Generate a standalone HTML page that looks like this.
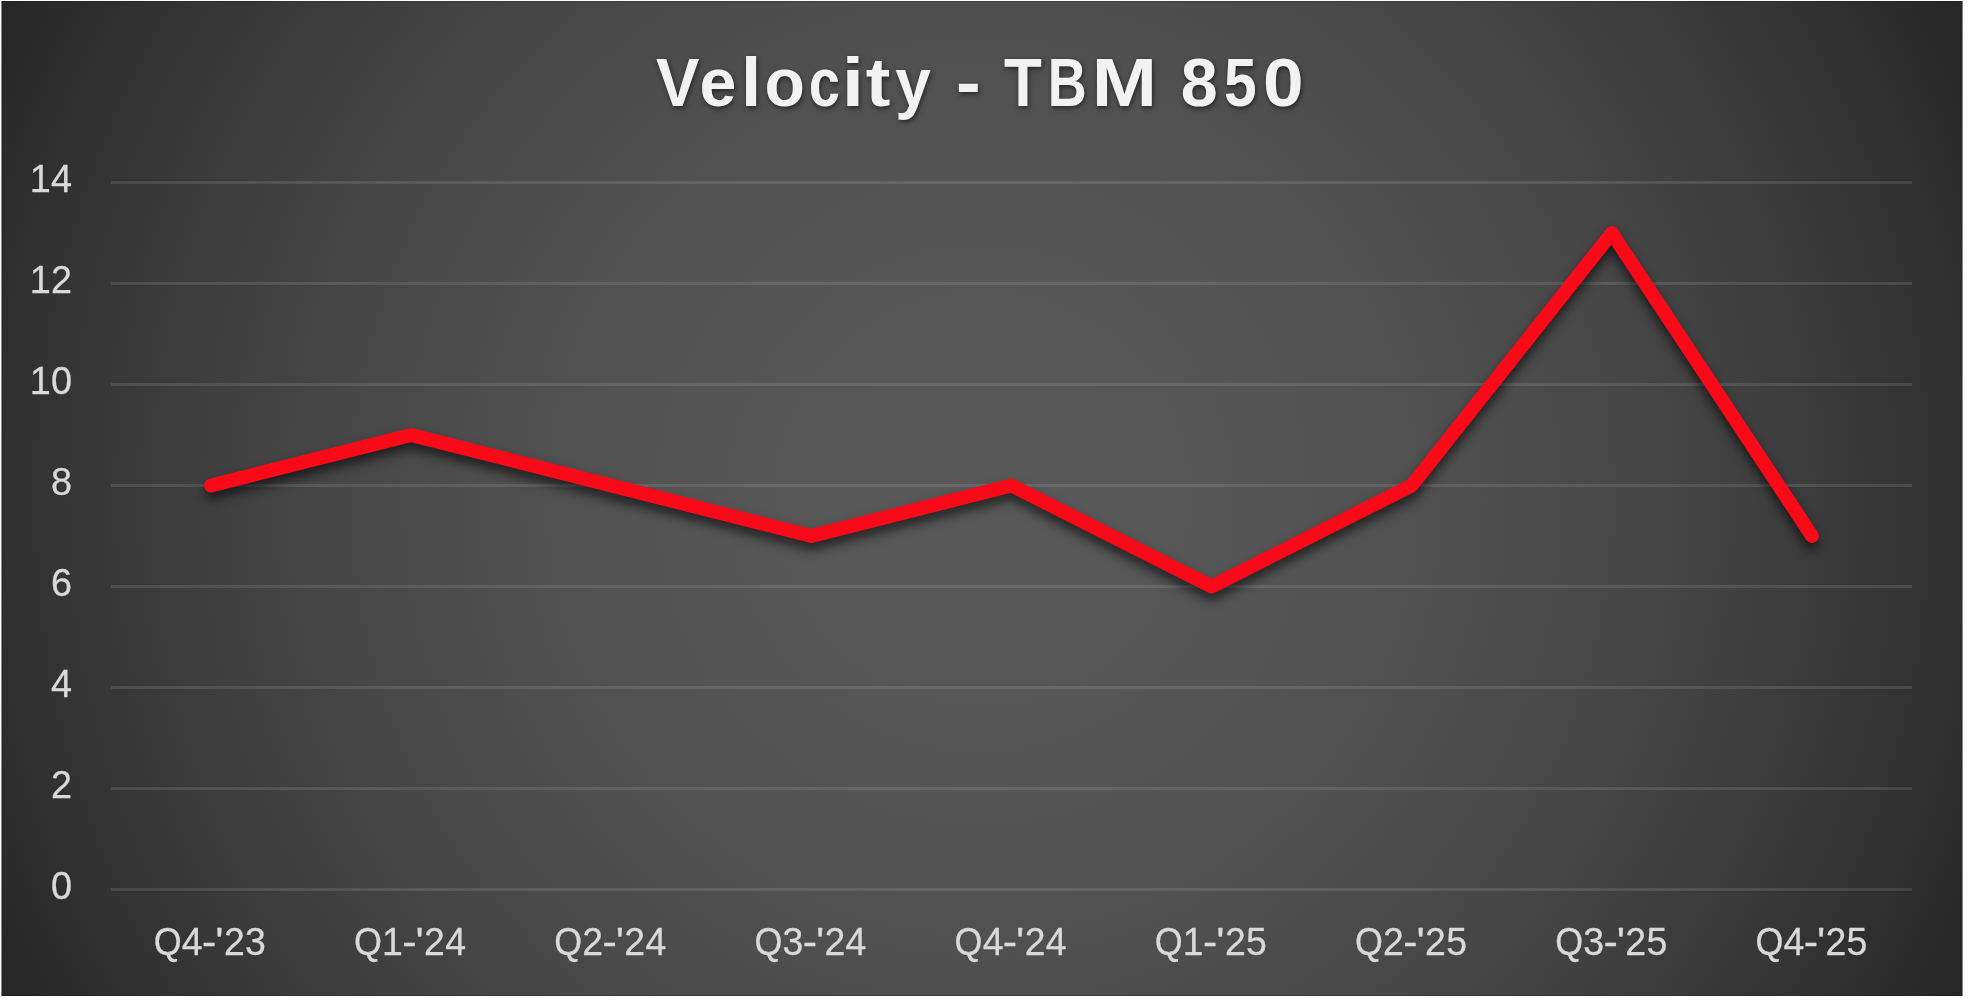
<!DOCTYPE html>
<html lang="en"><head><meta charset="utf-8"><title>Velocity - TBM 850</title>
<style>
html,body{margin:0;padding:0;background:#fff;}
body{width:1970px;height:1003px;overflow:hidden;}
svg{display:block;position:absolute;left:0;top:0;}
text{font-family:"Liberation Sans",Arial,Helvetica,sans-serif;}
.ax{font-size:39.4px;fill:#D9D9D9;stroke:#D9D9D9;stroke-width:0.3px;stroke-linejoin:round;}
.tt{font-size:68.3px;font-weight:bold;fill:#F2F2F2;}
</style></head><body>
<svg width="1970" height="1003" viewBox="0 0 1970 1003" role="img" aria-label="Velocity - TBM 850 line chart">
<defs>
<radialGradient id="bg" gradientUnits="userSpaceOnUse" cx="982.00" cy="498.50" r="1099.49"><stop offset="0.0000" stop-color="#585858"/><stop offset="0.0768" stop-color="#585858"/><stop offset="0.1600" stop-color="#575757"/><stop offset="0.2128" stop-color="#565656"/><stop offset="0.2549" stop-color="#555555"/><stop offset="0.2909" stop-color="#545454"/><stop offset="0.3230" stop-color="#535353"/><stop offset="0.3522" stop-color="#525252"/><stop offset="0.3791" stop-color="#515151"/><stop offset="0.4042" stop-color="#505050"/><stop offset="0.4279" stop-color="#4f4f4f"/><stop offset="0.4503" stop-color="#4e4e4e"/><stop offset="0.4716" stop-color="#4d4d4d"/><stop offset="0.4921" stop-color="#4c4c4c"/><stop offset="0.5117" stop-color="#4b4b4b"/><stop offset="0.5306" stop-color="#4a4a4a"/><stop offset="0.5488" stop-color="#494949"/><stop offset="0.5665" stop-color="#484848"/><stop offset="0.5836" stop-color="#474747"/><stop offset="0.6002" stop-color="#464646"/><stop offset="0.6164" stop-color="#454545"/><stop offset="0.6321" stop-color="#444444"/><stop offset="0.6475" stop-color="#434343"/><stop offset="0.6626" stop-color="#424242"/><stop offset="0.6772" stop-color="#414141"/><stop offset="0.6916" stop-color="#404040"/><stop offset="0.7057" stop-color="#3f3f3f"/><stop offset="0.7195" stop-color="#3e3e3e"/><stop offset="0.7331" stop-color="#3d3d3d"/><stop offset="0.7464" stop-color="#3c3c3c"/><stop offset="0.7595" stop-color="#3b3b3b"/><stop offset="0.7723" stop-color="#3a3a3a"/><stop offset="0.7849" stop-color="#393939"/><stop offset="0.7974" stop-color="#383838"/><stop offset="0.8096" stop-color="#373737"/><stop offset="0.8217" stop-color="#363636"/><stop offset="0.8336" stop-color="#353535"/><stop offset="0.8453" stop-color="#343434"/><stop offset="0.8569" stop-color="#333333"/><stop offset="0.8683" stop-color="#323232"/><stop offset="0.8796" stop-color="#313131"/><stop offset="0.8907" stop-color="#303030"/><stop offset="0.9017" stop-color="#2f2f2f"/><stop offset="0.9125" stop-color="#2e2e2e"/><stop offset="0.9232" stop-color="#2d2d2d"/><stop offset="0.9338" stop-color="#2c2c2c"/><stop offset="0.9443" stop-color="#2b2b2b"/><stop offset="0.9547" stop-color="#2a2a2a"/><stop offset="0.9649" stop-color="#292929"/><stop offset="0.9751" stop-color="#282828"/><stop offset="0.9851" stop-color="#272727"/><stop offset="0.9951" stop-color="#262626"/><stop offset="1.0000" stop-color="#262626"/></radialGradient>
<filter id="ls" x="-5%" y="-20%" width="110%" height="150%" color-interpolation-filters="sRGB"><feGaussianBlur in="SourceAlpha" stdDeviation="5.5"/><feOffset dx="0" dy="7.0" result="b"/><feFlood flood-color="#000" flood-opacity="0.6"/><feComposite in2="b" operator="in"/><feMerge><feMergeNode/><feMergeNode in="SourceGraphic"/></feMerge></filter>
<filter id="ts" x="-5%" y="-30%" width="110%" height="160%" color-interpolation-filters="sRGB"><feGaussianBlur in="SourceAlpha" stdDeviation="2.4"/><feOffset dx="0.8" dy="1.9" result="b"/><feFlood flood-color="#000" flood-opacity="0.55"/><feComposite in2="b" operator="in"/><feMerge><feMergeNode/><feMergeNode in="SourceGraphic"/></feMerge></filter>
<filter id="aa" filterUnits="userSpaceOnUse" x="0" y="0" width="1970" height="1003" color-interpolation-filters="sRGB"><feOffset dx="0" dy="0"/></filter>
</defs>
<rect x="1.5" y="1.0" width="1961.0" height="995.0" fill="url(#bg)"/>
<rect x="2.0" y="1.5" width="1960.0" height="994.0" fill="none" stroke="rgba(0,0,0,0.18)" stroke-width="1.0"/>
<g fill="rgba(242,242,242,0.113)">
<rect x="111.0" y="887.95" width="1801.0" height="3.1"/>
<rect x="111.0" y="786.95" width="1801.0" height="3.1"/>
<rect x="111.0" y="685.95" width="1801.0" height="3.1"/>
<rect x="111.0" y="584.95" width="1801.0" height="3.1"/>
<rect x="111.0" y="483.95" width="1801.0" height="3.1"/>
<rect x="111.0" y="382.95" width="1801.0" height="3.1"/>
<rect x="111.0" y="281.95" width="1801.0" height="3.1"/>
<rect x="111.0" y="180.95" width="1801.0" height="3.1"/>
</g>
<g class="ax" filter="url(#aa)">
<text y="192.00"><tspan x="29.78" textLength="21.04" lengthAdjust="spacingAndGlyphs">1</tspan><tspan x="51.08" textLength="21.04" lengthAdjust="spacingAndGlyphs">4</tspan></text>
<text y="293.00"><tspan x="29.78" textLength="21.04" lengthAdjust="spacingAndGlyphs">1</tspan><tspan x="51.08" textLength="21.04" lengthAdjust="spacingAndGlyphs">2</tspan></text>
<text y="394.00"><tspan x="29.78" textLength="21.04" lengthAdjust="spacingAndGlyphs">1</tspan><tspan x="51.08" textLength="21.04" lengthAdjust="spacingAndGlyphs">0</tspan></text>
<text y="495.00"><tspan x="51.08" textLength="21.04" lengthAdjust="spacingAndGlyphs">8</tspan></text>
<text y="596.00"><tspan x="51.08" textLength="21.04" lengthAdjust="spacingAndGlyphs">6</tspan></text>
<text y="697.00"><tspan x="51.08" textLength="21.04" lengthAdjust="spacingAndGlyphs">4</tspan></text>
<text y="798.00"><tspan x="51.08" textLength="21.04" lengthAdjust="spacingAndGlyphs">2</tspan></text>
<text y="899.00"><tspan x="51.08" textLength="21.04" lengthAdjust="spacingAndGlyphs">0</tspan></text>
</g>
<g class="ax" filter="url(#aa)">
<text y="954.9"><tspan x="153.80" textLength="27.92" lengthAdjust="spacingAndGlyphs">Q</tspan><tspan x="181.86" textLength="20.82" lengthAdjust="spacingAndGlyphs">4</tspan><tspan x="202.09" textLength="14.32" lengthAdjust="spacingAndGlyphs">-</tspan><tspan x="215.30" textLength="8.29" lengthAdjust="spacingAndGlyphs">'</tspan><tspan x="223.89" textLength="20.82" lengthAdjust="spacingAndGlyphs">2</tspan><tspan x="245.00" textLength="20.82" lengthAdjust="spacingAndGlyphs">3</tspan></text>
<text y="954.9"><tspan x="354.00" textLength="27.92" lengthAdjust="spacingAndGlyphs">Q</tspan><tspan x="382.06" textLength="20.82" lengthAdjust="spacingAndGlyphs">1</tspan><tspan x="402.29" textLength="14.32" lengthAdjust="spacingAndGlyphs">-</tspan><tspan x="415.50" textLength="8.29" lengthAdjust="spacingAndGlyphs">'</tspan><tspan x="424.09" textLength="20.82" lengthAdjust="spacingAndGlyphs">2</tspan><tspan x="445.20" textLength="20.82" lengthAdjust="spacingAndGlyphs">4</tspan></text>
<text y="954.9"><tspan x="554.20" textLength="27.92" lengthAdjust="spacingAndGlyphs">Q</tspan><tspan x="582.26" textLength="20.82" lengthAdjust="spacingAndGlyphs">2</tspan><tspan x="602.49" textLength="14.32" lengthAdjust="spacingAndGlyphs">-</tspan><tspan x="615.70" textLength="8.29" lengthAdjust="spacingAndGlyphs">'</tspan><tspan x="624.29" textLength="20.82" lengthAdjust="spacingAndGlyphs">2</tspan><tspan x="645.40" textLength="20.82" lengthAdjust="spacingAndGlyphs">4</tspan></text>
<text y="954.9"><tspan x="754.40" textLength="27.92" lengthAdjust="spacingAndGlyphs">Q</tspan><tspan x="782.46" textLength="20.82" lengthAdjust="spacingAndGlyphs">3</tspan><tspan x="802.69" textLength="14.32" lengthAdjust="spacingAndGlyphs">-</tspan><tspan x="815.90" textLength="8.29" lengthAdjust="spacingAndGlyphs">'</tspan><tspan x="824.49" textLength="20.82" lengthAdjust="spacingAndGlyphs">2</tspan><tspan x="845.60" textLength="20.82" lengthAdjust="spacingAndGlyphs">4</tspan></text>
<text y="954.9"><tspan x="954.60" textLength="27.92" lengthAdjust="spacingAndGlyphs">Q</tspan><tspan x="982.66" textLength="20.82" lengthAdjust="spacingAndGlyphs">4</tspan><tspan x="1002.89" textLength="14.32" lengthAdjust="spacingAndGlyphs">-</tspan><tspan x="1016.10" textLength="8.29" lengthAdjust="spacingAndGlyphs">'</tspan><tspan x="1024.69" textLength="20.82" lengthAdjust="spacingAndGlyphs">2</tspan><tspan x="1045.80" textLength="20.82" lengthAdjust="spacingAndGlyphs">4</tspan></text>
<text y="954.9"><tspan x="1154.80" textLength="27.92" lengthAdjust="spacingAndGlyphs">Q</tspan><tspan x="1182.86" textLength="20.82" lengthAdjust="spacingAndGlyphs">1</tspan><tspan x="1203.09" textLength="14.32" lengthAdjust="spacingAndGlyphs">-</tspan><tspan x="1216.30" textLength="8.29" lengthAdjust="spacingAndGlyphs">'</tspan><tspan x="1224.89" textLength="20.82" lengthAdjust="spacingAndGlyphs">2</tspan><tspan x="1246.00" textLength="20.82" lengthAdjust="spacingAndGlyphs">5</tspan></text>
<text y="954.9"><tspan x="1355.00" textLength="27.92" lengthAdjust="spacingAndGlyphs">Q</tspan><tspan x="1383.06" textLength="20.82" lengthAdjust="spacingAndGlyphs">2</tspan><tspan x="1403.29" textLength="14.32" lengthAdjust="spacingAndGlyphs">-</tspan><tspan x="1416.50" textLength="8.29" lengthAdjust="spacingAndGlyphs">'</tspan><tspan x="1425.09" textLength="20.82" lengthAdjust="spacingAndGlyphs">2</tspan><tspan x="1446.20" textLength="20.82" lengthAdjust="spacingAndGlyphs">5</tspan></text>
<text y="954.9"><tspan x="1555.20" textLength="27.92" lengthAdjust="spacingAndGlyphs">Q</tspan><tspan x="1583.26" textLength="20.82" lengthAdjust="spacingAndGlyphs">3</tspan><tspan x="1603.49" textLength="14.32" lengthAdjust="spacingAndGlyphs">-</tspan><tspan x="1616.70" textLength="8.29" lengthAdjust="spacingAndGlyphs">'</tspan><tspan x="1625.29" textLength="20.82" lengthAdjust="spacingAndGlyphs">2</tspan><tspan x="1646.40" textLength="20.82" lengthAdjust="spacingAndGlyphs">5</tspan></text>
<text y="954.9"><tspan x="1755.40" textLength="27.92" lengthAdjust="spacingAndGlyphs">Q</tspan><tspan x="1783.46" textLength="20.82" lengthAdjust="spacingAndGlyphs">4</tspan><tspan x="1803.69" textLength="14.32" lengthAdjust="spacingAndGlyphs">-</tspan><tspan x="1816.90" textLength="8.29" lengthAdjust="spacingAndGlyphs">'</tspan><tspan x="1825.49" textLength="20.82" lengthAdjust="spacingAndGlyphs">2</tspan><tspan x="1846.60" textLength="20.82" lengthAdjust="spacingAndGlyphs">5</tspan></text>
</g>
<polyline points="211.06,485.50 411.17,435.00 611.28,485.50 811.39,536.00 1011.50,485.50 1211.61,586.50 1411.72,485.50 1611.83,233.00 1811.94,536.00" fill="none" stroke="#FA0A19" stroke-width="13.8" stroke-linecap="round" stroke-linejoin="round" filter="url(#ls)"/>
<text class="tt" filter="url(#ts)" y="106.0"><tspan x="655.96" textLength="43.39" lengthAdjust="spacingAndGlyphs">V</tspan><tspan x="699.51" textLength="36.85" lengthAdjust="spacingAndGlyphs">e</tspan><tspan x="740.91" textLength="20.25" lengthAdjust="spacingAndGlyphs">l</tspan><tspan x="764.42" textLength="40.36" lengthAdjust="spacingAndGlyphs">o</tspan><tspan x="808.71" textLength="31.24" lengthAdjust="spacingAndGlyphs">c</tspan><tspan x="841.80" textLength="22.27" lengthAdjust="spacingAndGlyphs">i</tspan><tspan x="865.70" textLength="24.60" lengthAdjust="spacingAndGlyphs">t</tspan><tspan x="895.30" textLength="35.64" lengthAdjust="spacingAndGlyphs">y</tspan> <tspan x="956.01" textLength="24.66" lengthAdjust="spacingAndGlyphs">-</tspan> <tspan x="1004.00" textLength="37.86" lengthAdjust="spacingAndGlyphs">T</tspan><tspan x="1047.69" textLength="38.96" lengthAdjust="spacingAndGlyphs">B</tspan><tspan x="1091.76" textLength="65.29" lengthAdjust="spacingAndGlyphs">M</tspan> <tspan x="1180.79" textLength="36.95" lengthAdjust="spacingAndGlyphs">8</tspan><tspan x="1223.99" textLength="32.64" lengthAdjust="spacingAndGlyphs">5</tspan><tspan x="1263.11" textLength="40.58" lengthAdjust="spacingAndGlyphs">0</tspan></text>
</svg>
</body></html>
